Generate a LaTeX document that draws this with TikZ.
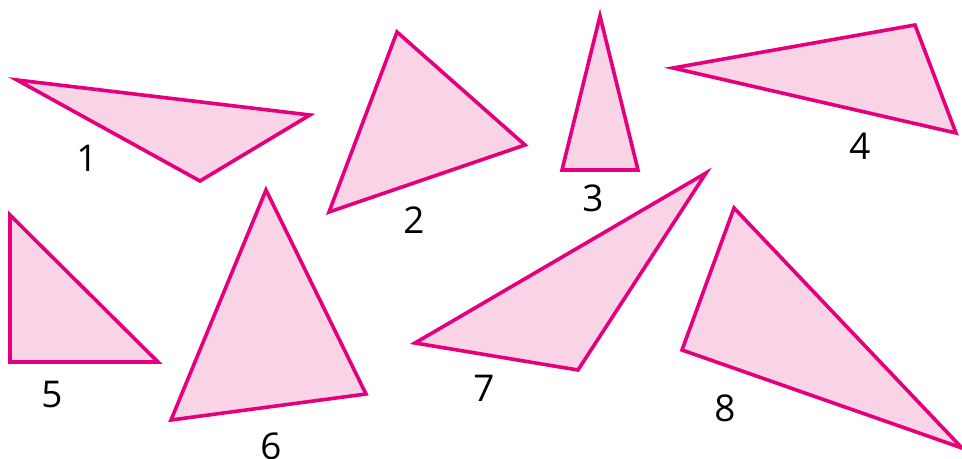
\documentclass[tikz,border=0pt]{standalone}
\usepackage{fontspec}
\setmainfont{Open Sans}
\definecolor{tline}{HTML}{E4007C}
\definecolor{tfill}{HTML}{F9D3E6}
\begin{document}
\begin{tikzpicture}[x=1bp,y=-1bp,
  tri/.style={draw=tline,fill=tfill,line width=3.6bp,line join=miter},
  lab/.style={inner sep=0pt,font=\fontsize{37}{40}\selectfont,text=black}]
\useasboundingbox (0,0) rectangle (962,459);
\clip (0,0) rectangle (962,459);
\draw[tri] (17,80) -- (310,115) -- (200,181) -- cycle;
\draw[tri] (397,32) -- (525,145) -- (329,212) -- cycle;
\draw[tri] (600,16) -- (638,170) -- (562,170) -- cycle;
\draw[tri] (673,68) -- (915,25) -- (956,133) -- cycle;
\draw[tri] (10,215) -- (158,362) -- (10,362) -- cycle;
\draw[tri] (266,190) -- (366,394) -- (171,420) -- cycle;
\draw[tri] (706,173) -- (578,370) -- (415,343) -- cycle;
\draw[tri] (734,208) -- (962,448) -- (682,350) -- cycle;
\node[lab] (l1) at (87,158) {1};
\node[lab] (l2) at (414,220) {2};
\node[lab] (l3) at (593,198) {3};
\node[lab] (l4) at (860,146) {4};
\node[lab] (l5) at (52,395) {5};
\node[lab] (l6) at (271,446) {6};
\node[lab] (l7) at (484,388) {7};
\node[lab] (l8) at (725,408) {8};
\end{tikzpicture}
\end{document}
